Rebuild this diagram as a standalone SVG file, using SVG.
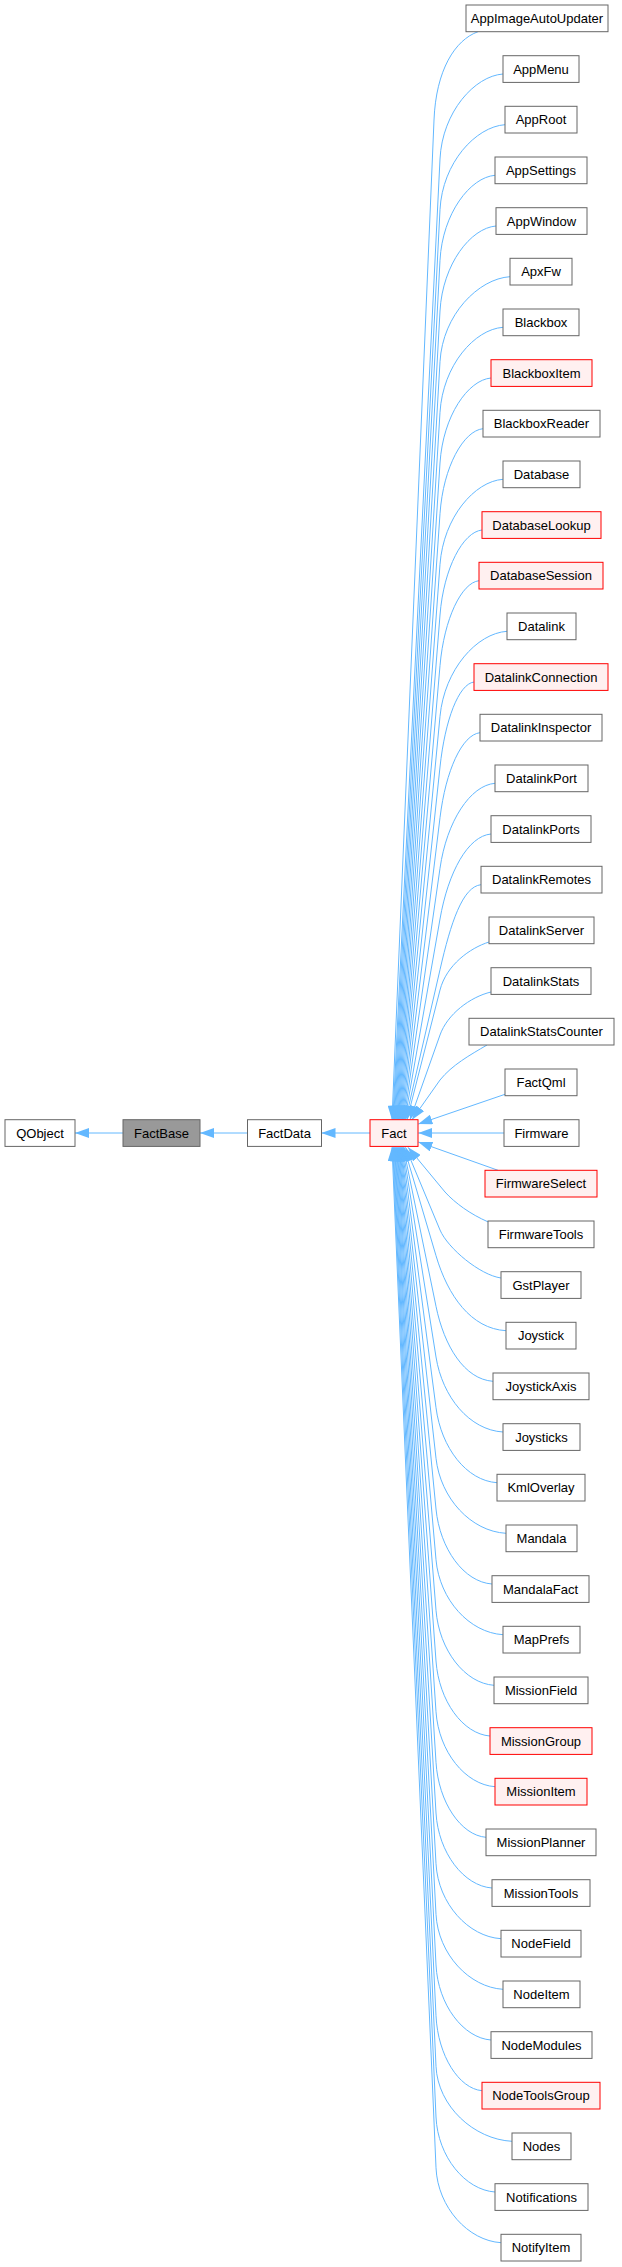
<svg xmlns="http://www.w3.org/2000/svg" width="622" height="2267" viewBox="0 0 622 2267">
<style>
rect{stroke-width:1}
.n rect{fill:#fff;stroke:#666}
.r rect{fill:#fff0f0;stroke:#f00}
.g rect{fill:#999;stroke:#666}
text{font-family:"Liberation Sans",Arial,Helvetica,sans-serif;font-size:13px;fill:#000;text-anchor:middle}
#edges path{fill:none;stroke:#63b8ff;stroke-width:1;marker-end:url(#arr)}
</style>
<defs>
<marker id="arr" viewBox="0 0 14 10" refX="14" refY="5" markerWidth="14" markerHeight="10" markerUnits="userSpaceOnUse" orient="auto"><path d="M0,0L14,5L0,10z" fill="#63b8ff"/></marker>
</defs>
<rect width="622" height="2267" fill="#fff"/>
<g id="edges">
<path d="M123,1133 L75,1133"/>
<path d="M247.5,1133 L200,1133"/>
<path d="M370,1133 L321.5,1133"/>
<path d="M478,31.7 C455,40 436,70 434,120 L392,1119.7"/>
<path d="M503,74 C474.6,76 442.3,112 440,159 L392.8,1119.7"/>
<path d="M505,124.7 C475.8,126.7 442.4,162.7 440,209.7 L393.6,1119.7"/>
<path d="M495,175.3 C470.3,177.3 442.5,213.3 440,260.3 L394.4,1119.7"/>
<path d="M496,226 C470.8,228 442.6,264 440,311 L395.2,1119.7"/>
<path d="M510,276.7 C478.5,278.7 442.7,314.7 440,361.7 L396,1119.7"/>
<path d="M503,327.3 C474.6,329.3 442.9,365.3 440,412.3 L396.8,1119.7"/>
<path d="M491,378 C468,380 443,416 440,463 L397.6,1119.7"/>
<path d="M483,428.7 C463.6,430.7 443.2,466.7 440,513.7 L398.4,1119.7"/>
<path d="M503,479.3 C474.6,481.3 443.5,517.3 440,564.3 L399.2,1119.7"/>
<path d="M482,530 C463.1,532 443.7,568 440,615 L400,1119.7"/>
<path d="M479,580.7 C461.5,582.7 444.1,618.7 440,665.7 L400.8,1119.7"/>
<path d="M507,631.3 C476.9,633.3 444.5,669.3 440,716.3 L401.6,1119.7"/>
<path d="M474,682 C458.7,684 445,720 440,767 L402.4,1119.7"/>
<path d="M480,732.7 C462,734.7 445.7,770.7 440,817.7 L403.2,1119.7"/>
<path d="M495,783.3 C470.3,785.3 446.7,821.3 440,868.3 L404,1119.7"/>
<path d="M491,834 C468,836 448.2,872 440,919 L404.8,1119.7"/>
<path d="M481,884.7 C462.5,886.7 450.8,922.7 440,969.7 L405.6,1119.7"/>
<path d="M489,942 C470,948 446.4,965 440,990 L407,1119.7"/>
<path d="M491,992 C470,997 447.3,1014.3 440,1035 L410,1119.7"/>
<path d="M487,1045 C470,1055 452,1065 440,1080 L412,1119.7"/>
<path d="M505,1094.3 L418.3,1124"/>
<path d="M504,1133 L418.3,1133"/>
<path d="M498,1170.3 L418.3,1142"/>
<path d="M488.3,1222 C470,1214 455,1203 445,1192 L408,1147.3"/>
<path d="M501,1278 C480,1275 447.9,1248.4 440,1230 L405.5,1147.3"/>
<path d="M506,1330.7 C471,1328.7 447.8,1295.7 436,1255.7 L404,1147.3"/>
<path d="M493,1381.3 C464.5,1379.3 444.2,1346.3 436,1306.3 L403.3,1147.3"/>
<path d="M503,1432 C469.5,1430 442.4,1397 436,1357 L402.7,1147.3"/>
<path d="M497,1482.7 C466.5,1480.7 441.2,1447.7 436,1407.7 L402,1147.3"/>
<path d="M506,1533.3 C471,1531.3 440.5,1498.3 436,1458.3 L401.3,1147.3"/>
<path d="M492,1584 C464,1582 439.9,1549 436,1509 L400.7,1147.3"/>
<path d="M503,1634.7 C469.5,1632.7 439.5,1599.7 436,1559.7 L400,1147.3"/>
<path d="M494,1685.3 C465,1683.3 439.2,1650.3 436,1610.3 L399.3,1147.3"/>
<path d="M490,1736 C463,1734 438.9,1701 436,1661 L398.7,1147.3"/>
<path d="M495,1786.7 C465.5,1784.7 438.7,1751.7 436,1711.7 L398,1147.3"/>
<path d="M486,1837.3 C461,1835.3 438.5,1802.3 436,1762.3 L397.3,1147.3"/>
<path d="M492,1888 C464,1886 438.4,1853 436,1813 L396.7,1147.3"/>
<path d="M501,1938.7 C468.5,1936.7 438.2,1903.7 436,1863.7 L396,1147.3"/>
<path d="M503,1989.3 C469.5,1987.3 438.1,1954.3 436,1914.3 L395.3,1147.3"/>
<path d="M491,2040 C463.5,2038 438,2005 436,1965 L394.7,1147.3"/>
<path d="M482,2090.7 C459,2088.7 437.9,2055.7 436,2015.7 L394,1147.3"/>
<path d="M512,2141.3 C474,2139.3 437.8,2106.3 436,2066.3 L393.3,1147.3"/>
<path d="M495,2192 C465.5,2190 437.8,2157 436,2117 L392.7,1147.3"/>
<path d="M501,2242.7 C468.5,2240.7 437.7,2207.7 436,2167.7 L392,1147.3"/>
</g>
<g id="QObject" class="n"><rect x="5" y="1119.7" width="70" height="26.7"/><text x="40" y="1137.5">QObject</text></g>
<g id="FactBase" class="g"><rect x="123" y="1119.7" width="77" height="26.7"/><text x="161.5" y="1137.5">FactBase</text></g>
<g id="FactData" class="n"><rect x="247.5" y="1119.7" width="74" height="26.7"/><text x="284.5" y="1137.5">FactData</text></g>
<g id="Fact" class="r"><rect x="370" y="1119.7" width="48" height="26.7"/><text x="394" y="1137.5">Fact</text></g>
<g id="AppImageAutoUpdater" class="n"><rect x="466" y="5" width="142" height="26.7"/><text x="537" y="22.8">AppImageAutoUpdater</text></g>
<g id="AppMenu" class="n"><rect x="503" y="55.7" width="76" height="26.7"/><text x="541" y="73.5">AppMenu</text></g>
<g id="AppRoot" class="n"><rect x="505" y="106.3" width="72" height="26.7"/><text x="541" y="124.2">AppRoot</text></g>
<g id="AppSettings" class="n"><rect x="495" y="157" width="92" height="26.7"/><text x="541" y="174.8">AppSettings</text></g>
<g id="AppWindow" class="n"><rect x="496" y="207.7" width="91" height="26.7"/><text x="541.5" y="225.5">AppWindow</text></g>
<g id="ApxFw" class="n"><rect x="510" y="258.3" width="62" height="26.7"/><text x="541" y="276.2">ApxFw</text></g>
<g id="Blackbox" class="n"><rect x="503" y="309" width="76" height="26.7"/><text x="541" y="326.8">Blackbox</text></g>
<g id="BlackboxItem" class="r"><rect x="491" y="359.7" width="101" height="26.7"/><text x="541.5" y="377.5">BlackboxItem</text></g>
<g id="BlackboxReader" class="n"><rect x="483" y="410.3" width="117" height="26.7"/><text x="541.5" y="428.2">BlackboxReader</text></g>
<g id="Database" class="n"><rect x="503" y="461" width="77" height="26.7"/><text x="541.5" y="478.8">Database</text></g>
<g id="DatabaseLookup" class="r"><rect x="482" y="511.7" width="119" height="26.7"/><text x="541.5" y="529.5">DatabaseLookup</text></g>
<g id="DatabaseSession" class="r"><rect x="479" y="562.3" width="124" height="26.7"/><text x="541" y="580.2">DatabaseSession</text></g>
<g id="Datalink" class="n"><rect x="507" y="613" width="69" height="26.7"/><text x="541.5" y="630.8">Datalink</text></g>
<g id="DatalinkConnection" class="r"><rect x="474" y="663.7" width="134" height="26.7"/><text x="541" y="681.5">DatalinkConnection</text></g>
<g id="DatalinkInspector" class="n"><rect x="480" y="714.3" width="122" height="26.7"/><text x="541" y="732.2">DatalinkInspector</text></g>
<g id="DatalinkPort" class="n"><rect x="495" y="765" width="93" height="26.7"/><text x="541.5" y="782.8">DatalinkPort</text></g>
<g id="DatalinkPorts" class="n"><rect x="491" y="815.7" width="100" height="26.7"/><text x="541" y="833.5">DatalinkPorts</text></g>
<g id="DatalinkRemotes" class="n"><rect x="481" y="866.3" width="121" height="26.7"/><text x="541.5" y="884.2">DatalinkRemotes</text></g>
<g id="DatalinkServer" class="n"><rect x="489" y="917" width="105" height="26.7"/><text x="541.5" y="934.8">DatalinkServer</text></g>
<g id="DatalinkStats" class="n"><rect x="491" y="967.7" width="100" height="26.7"/><text x="541" y="985.5">DatalinkStats</text></g>
<g id="DatalinkStatsCounter" class="n"><rect x="469" y="1018.3" width="145" height="26.7"/><text x="541.5" y="1036.2">DatalinkStatsCounter</text></g>
<g id="FactQml" class="n"><rect x="505" y="1069" width="72" height="26.7"/><text x="541" y="1086.8">FactQml</text></g>
<g id="Firmware" class="n"><rect x="504" y="1119.7" width="75" height="26.7"/><text x="541.5" y="1137.5">Firmware</text></g>
<g id="FirmwareSelect" class="r"><rect x="485" y="1170.3" width="112" height="26.7"/><text x="541" y="1188.2">FirmwareSelect</text></g>
<g id="FirmwareTools" class="n"><rect x="488" y="1221" width="106" height="26.7"/><text x="541" y="1238.8">FirmwareTools</text></g>
<g id="GstPlayer" class="n"><rect x="501" y="1271.7" width="80" height="26.7"/><text x="541" y="1289.5">GstPlayer</text></g>
<g id="Joystick" class="n"><rect x="506" y="1322.3" width="70" height="26.7"/><text x="541" y="1340.2">Joystick</text></g>
<g id="JoystickAxis" class="n"><rect x="493" y="1373" width="96" height="26.7"/><text x="541" y="1390.8">JoystickAxis</text></g>
<g id="Joysticks" class="n"><rect x="503" y="1423.7" width="77" height="26.7"/><text x="541.5" y="1441.5">Joysticks</text></g>
<g id="KmlOverlay" class="n"><rect x="497" y="1474.3" width="88" height="26.7"/><text x="541" y="1492.2">KmlOverlay</text></g>
<g id="Mandala" class="n"><rect x="506" y="1525" width="71" height="26.7"/><text x="541.5" y="1542.8">Mandala</text></g>
<g id="MandalaFact" class="n"><rect x="492" y="1575.7" width="97" height="26.7"/><text x="540.5" y="1593.5">MandalaFact</text></g>
<g id="MapPrefs" class="n"><rect x="503" y="1626.3" width="77" height="26.7"/><text x="541.5" y="1644.2">MapPrefs</text></g>
<g id="MissionField" class="n"><rect x="494" y="1677" width="94" height="26.7"/><text x="541" y="1694.8">MissionField</text></g>
<g id="MissionGroup" class="r"><rect x="490" y="1727.7" width="102" height="26.7"/><text x="541" y="1745.5">MissionGroup</text></g>
<g id="MissionItem" class="r"><rect x="495" y="1778.3" width="92" height="26.7"/><text x="541" y="1796.2">MissionItem</text></g>
<g id="MissionPlanner" class="n"><rect x="486" y="1829" width="110" height="26.7"/><text x="541" y="1846.8">MissionPlanner</text></g>
<g id="MissionTools" class="n"><rect x="492" y="1879.7" width="98" height="26.7"/><text x="541" y="1897.5">MissionTools</text></g>
<g id="NodeField" class="n"><rect x="501" y="1930.3" width="80" height="26.7"/><text x="541" y="1948.2">NodeField</text></g>
<g id="NodeItem" class="n"><rect x="503" y="1981" width="77" height="26.7"/><text x="541.5" y="1998.8">NodeItem</text></g>
<g id="NodeModules" class="n"><rect x="491" y="2031.7" width="101" height="26.7"/><text x="541.5" y="2049.5">NodeModules</text></g>
<g id="NodeToolsGroup" class="r"><rect x="482" y="2082.3" width="118" height="26.7"/><text x="541" y="2100.2">NodeToolsGroup</text></g>
<g id="Nodes" class="n"><rect x="512" y="2133" width="59" height="26.7"/><text x="541.5" y="2150.8">Nodes</text></g>
<g id="Notifications" class="n"><rect x="495" y="2183.7" width="93" height="26.7"/><text x="541.5" y="2201.5">Notifications</text></g>
<g id="NotifyItem" class="n"><rect x="501" y="2234.3" width="80" height="26.7"/><text x="541" y="2252.2">NotifyItem</text></g>
</svg>
